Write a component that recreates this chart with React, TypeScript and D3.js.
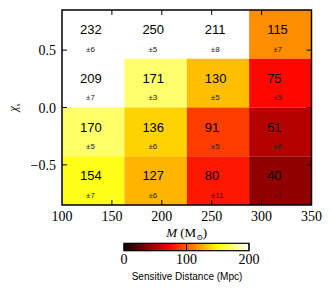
import React from "react";
import * as d3 from "d3";

// Data
const massEdges = [100, 162.5, 225, 287.5, 350];
const chiEdges = [0.85, 0.425, 0, -0.425, -0.85]; // top to bottom
const distances = [
  [232, 250, 211, 115],
  [209, 171, 130, 75],
  [170, 136, 91, 51],
  [154, 127, 80, 40],
];
const errors = [
  [6, 5, 8, 7],
  [7, 3, 5, 5],
  [5, 6, 5, 6],
  [7, 6, 11, 7],
];
const xTicks = [100, 150, 200, 250, 300, 350];
const yTicks = [0.5, 0.0, -0.5];
const cbTicks = [0, 100, 200];

function hot(v: number): string {
  const t = Math.max(0, Math.min(1, v / 200));
  const r = d3.scaleLinear([0, 0.365079, 1], [0.0416, 1, 1]).clamp(true)(t);
  const g = d3.scaleLinear([0, 0.365079, 0.746032, 1], [0, 0, 1, 1]).clamp(true)(t);
  const b = d3.scaleLinear([0, 0.746032, 1], [0, 0, 1]).clamp(true)(t);
  return d3.rgb(r * 255, g * 255, b * 255).formatHex();
}

const fmtY = (v: number) => (v < 0 ? "\u2212" : "") + Math.abs(v).toFixed(1);

export default function App() {
  const W = 332, H = 294;
  const x = d3.scaleLinear([100, 350], [62, 311.5]);
  const y = d3.scaleLinear([-0.85, 0.85], [205, 10]);
  const cb = d3.scaleLinear([0, 200], [124, 249]);
  const serif = "'Liberation Serif', 'DejaVu Serif', serif";
  const sans = "'Liberation Sans', Arial, sans-serif";
  const stops = d3.range(0, 201, 5);

  return (
    <svg width={W} height={H} style={{ position: "absolute", left: 0, top: 0 }}>
      <defs>
        <linearGradient id="hotgrad" x1="0" x2="1" y1="0" y2="0">
          {stops.map((s) => (
            <stop key={s} offset={s / 200} stopColor={hot(s)} />
          ))}
        </linearGradient>
      </defs>
      {/* cells */}
      {distances.map((row, i) =>
        row.map((v, j) => {
          const x0 = x(massEdges[j]);
          const x1 = x(massEdges[j + 1]);
          const y0 = y(chiEdges[i]);
          const y1 = y(chiEdges[i + 1]);
          return (
            <g key={`${i}-${j}`}>
              <rect x={x0} y={y0} width={x1 - x0} height={y1 - y0} fill={hot(v)} />
              <text x={x0 + 18} y={y0 + 24} fontFamily={sans} fontSize={13} fill="#000">
                {v}
              </text>
              <text x={x0 + 24} y={y0 + 41.5} fontFamily={sans} fontSize={8} fill="#222">
                {"\u00b1" + errors[i][j]}
              </text>
            </g>
          );
        })
      )}
      {/* ticks */}
      {xTicks.slice(1, -1).map((t) => (
        <g key={"xt" + t}>
          <line x1={x(t)} x2={x(t)} y1={205} y2={200} stroke="#000" strokeWidth={1} />
          <line x1={x(t)} x2={x(t)} y1={10} y2={15} stroke="#000" strokeWidth={1} />
        </g>
      ))}
      {yTicks.map((t) => (
        <g key={"yt" + t}>
          <line x1={62} x2={67} y1={y(t)} y2={y(t)} stroke="#000" strokeWidth={1} />
          <line x1={311.5} x2={306.5} y1={y(t)} y2={y(t)} stroke="#000" strokeWidth={1} />
        </g>
      ))}
      <rect x={62} y={10} width={249.5} height={195} fill="none" stroke="#000" strokeWidth={1.5} />
      {/* tick labels */}
      {xTicks.map((t) => (
        <text key={"xl" + t} x={x(t)} y={220.5} textAnchor="middle" fontFamily={serif} fontSize={14}>
          {t}
        </text>
      ))}
      {yTicks.map((t) => (
        <text key={"yl" + t} x={56} y={y(t) + 5} textAnchor="end" fontFamily={serif} fontSize={14}>
          {fmtY(t)}
        </text>
      ))}
      {/* axis labels */}
      <text transform="translate(17,107.5) rotate(-90)" textAnchor="middle" fontFamily={serif} fontSize={12}>
        <tspan fontStyle="italic">χ</tspan>
        <tspan fontSize={7} dy={3}>s</tspan>
      </text>
      <text x={186.7} y={237} textAnchor="middle" fontFamily={serif} fontSize={13}>
        <tspan fontStyle="italic">M</tspan>
        <tspan> (M</tspan>
        <tspan fontSize={8} dy={3}>⊙</tspan>
        <tspan dy={-3}>)</tspan>
      </text>
      {/* colorbar */}
      <rect x={cb(0)} y={243.3} width={cb(200) - cb(0)} height={7.4} fill="url(#hotgrad)" stroke="#000" strokeWidth={1.2} />
      {cbTicks.map((t) => (
        <g key={"cb" + t}>
          <line x1={cb(t)} x2={cb(t)} y1={243.3} y2={250.7} stroke="#000" strokeWidth={1} />
          <text x={cb(t)} y={263.5} textAnchor="middle" fontFamily={serif} fontSize={14}>
            {t}
          </text>
        </g>
      ))}
      <text x={187} y={280} textAnchor="middle" fontFamily={sans} fontSize={10}>
        Sensitive Distance (Mpc)
      </text>
    </svg>
  );
}
